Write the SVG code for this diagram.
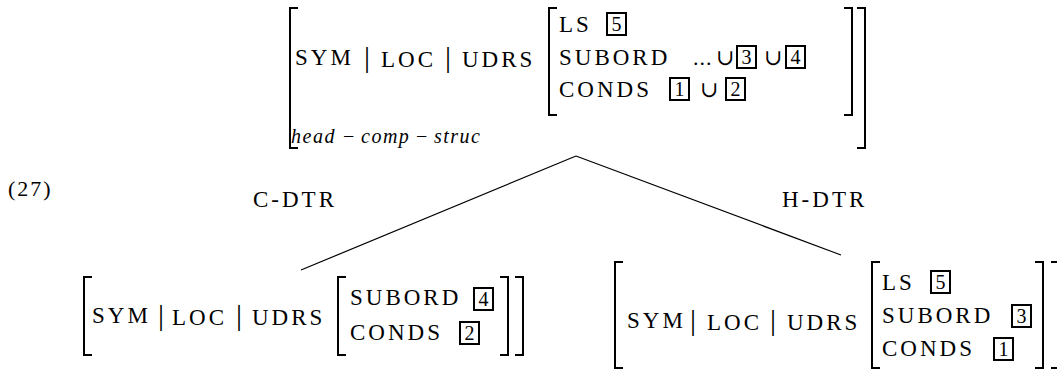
<svg xmlns="http://www.w3.org/2000/svg" width="1057" height="371" viewBox="0 0 1057 371">
<style>
.t{font-family:"Liberation Serif","DejaVu Serif",serif;font-size:23px;letter-spacing:3px;fill:#000}
.bar{font-size:30px;letter-spacing:0}
.op{font-family:"Liberation Serif","DejaVu Serif",serif;font-size:22px;fill:#000}
.it{font-family:"Liberation Serif","DejaVu Serif",serif;font-size:20px;font-style:italic;letter-spacing:1.5px;fill:#000}
.n{font-family:"Liberation Serif","DejaVu Serif",serif;font-size:20px;fill:#000;text-anchor:middle}
.br{fill:none;stroke:#000;stroke-width:2}
.bx{fill:none;stroke:#000;stroke-width:2}
.ln{stroke:#000;stroke-width:1.2;fill:none}
</style>
<rect width="1057" height="371" fill="#fff"/>

<g id="connectors">
<line class="ln" x1="576" y1="156" x2="301" y2="270"/>
<line class="ln" x1="576" y1="156" x2="841" y2="255"/>
</g>

<g id="label-27"><text class="op" x="8" y="196" font-size="25" letter-spacing="2">(27)</text></g>
<g id="label-cdtr"><text class="t" x="253" y="207" letter-spacing="1">C-DTR</text></g>
<g id="label-hdtr"><text class="t" x="782" y="207" letter-spacing="1">H-DTR</text></g>

<g id="node-top">
<path class="br" d="M298 8H290V148H298"/>
<path class="br" d="M857 8H865V148H857"/>
<text class="t" y="65"><tspan x="295">SYM</tspan><tspan class="bar" x="364" y="67">|</tspan><tspan x="381">LOC</tspan><tspan class="bar" x="445" y="67">|</tspan><tspan x="462">UDRS</tspan></text>
<path class="br" d="M557 8H549V115H557"/>
<path class="br" d="M844 8H852V115H844"/>
<text class="t" x="559" y="32">LS</text>
<rect class="bx" x="607" y="13" width="19" height="22"/><text class="n" x="616.5" y="31">5</text>
<text class="t" x="559" y="65">SUBORD</text>
<text class="op" x="693" y="65" letter-spacing="1">...</text>
<text class="op" x="716" y="65">∪</text>
<rect class="bx" x="737" y="46" width="19" height="22"/><text class="n" x="746.5" y="64">3</text>
<text class="op" x="764" y="65">∪</text>
<rect class="bx" x="786" y="46" width="19" height="22"/><text class="n" x="795.5" y="64">4</text>
<text class="t" x="559" y="97">CONDS</text>
<rect class="bx" x="670" y="78" width="19" height="22"/><text class="n" x="679.5" y="96">1</text>
<text class="op" x="700" y="97">∪</text>
<rect class="bx" x="726" y="78" width="19" height="22"/><text class="n" x="735.5" y="96">2</text>
<text class="it" y="143"><tspan x="291">head</tspan><tspan x="343" font-style="normal">−</tspan><tspan x="361">comp</tspan><tspan x="416" font-style="normal">−</tspan><tspan x="434">struc</tspan></text>
</g>

<g id="node-cdtr">
<path class="br" d="M92 277H84V355H92"/>
<path class="br" d="M515 277H523V355H515"/>
<text class="t" y="323"><tspan x="92">SYM</tspan><tspan class="bar" x="158" y="325">|</tspan><tspan x="172">LOC</tspan><tspan class="bar" x="236" y="325">|</tspan><tspan x="252">UDRS</tspan></text>
<path class="br" d="M346 277H338V355H346"/>
<path class="br" d="M500 277H508V355H500"/>
<text class="t" x="350" y="305">SUBORD</text>
<rect class="bx" x="474" y="288" width="19" height="22"/><text class="n" x="483.5" y="306">4</text>
<text class="t" x="350" y="340">CONDS</text>
<rect class="bx" x="460" y="322" width="19" height="22"/><text class="n" x="469.5" y="340">2</text>
</g>

<g id="node-hdtr">
<path class="br" d="M623 262H615V368H623"/>
<path class="br" d="M1051 262H1059V368H1051"/>
<text class="t" y="328"><tspan x="627">SYM</tspan><tspan class="bar" x="690" y="330">|</tspan><tspan x="707">LOC</tspan><tspan class="bar" x="770" y="330">|</tspan><tspan x="787">UDRS</tspan></text>
<path class="br" d="M880 262H872V368H880"/>
<path class="br" d="M1035 262H1043V368H1035"/>
<text class="t" x="882" y="290">LS</text>
<rect class="bx" x="931" y="271" width="19" height="22"/><text class="n" x="940.5" y="289">5</text>
<text class="t" x="882" y="323">SUBORD</text>
<rect class="bx" x="1012" y="305" width="19" height="22"/><text class="n" x="1021.5" y="323">3</text>
<text class="t" x="882" y="356">CONDS</text>
<rect class="bx" x="994" y="338" width="19" height="22"/><text class="n" x="1003.5" y="356">1</text>
</g>
</svg>
